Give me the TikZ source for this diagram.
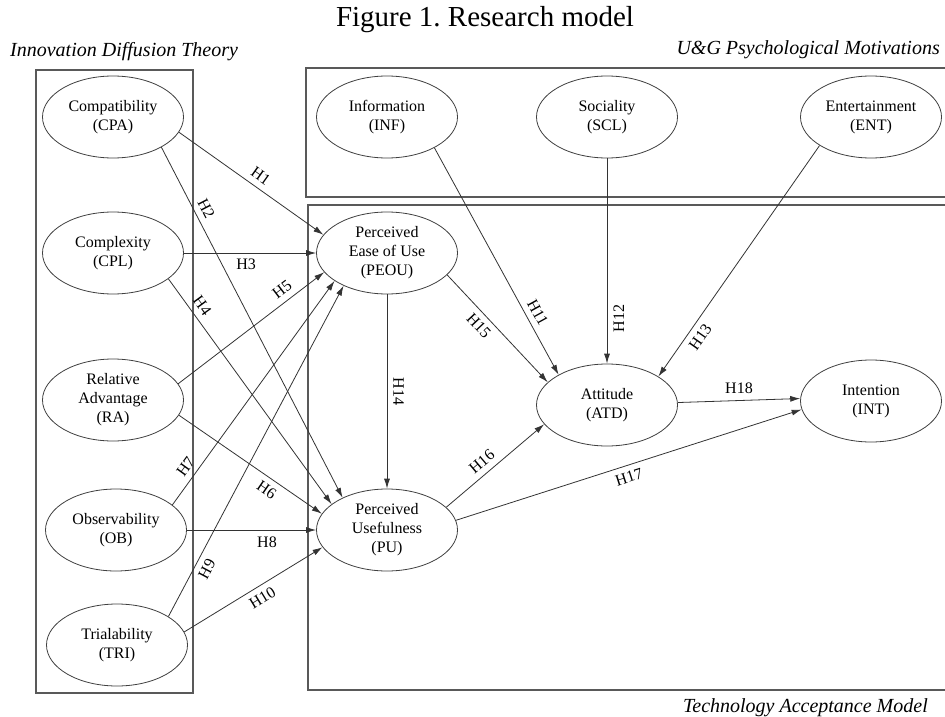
\documentclass[tikz,border=0pt]{standalone}
\usepackage{fontspec}
\setmainfont{Liberation Serif}
\usetikzlibrary{shapes.geometric,arrows.meta}
\frenchspacing

\begin{document}
\begin{tikzpicture}[
    x=1pt, y=-1pt,
    node distance=2cm,
    >={Latex[length=10pt,width=6pt]},
    font=\fontsize{16}{19}\selectfont,
    factor/.style={
		ellipse,
		draw=black!75,
		line width=0.8pt,
		fill=white,
		align=center,
		inner sep=0pt,
		minimum width=141pt,
		minimum height=82pt
	},
	group/.style={
		font=\fontsize{20}{24}\selectfont\itshape,
		inner sep=0pt
	},
	hyp/.style={
		draw=black!80,
		line width=0.8pt,
		->
	},
	hlab/.style={
		inner sep=6pt
	},
	frame/.style={
		draw=black!65,
		line width=1.2pt
	}
  ]
  \useasboundingbox (0,0) rectangle (945,717);

  % titles and the three frames
  \node (title) at (485,20) {\fontsize{29}{32}\selectfont Figure 1. Research model};
  \node [group, anchor=west] (idt) at (10,52) {Innovation Diffusion Theory};
  \node [group, anchor=east] (ug) at (940,50) {U\&G Psychological Motivations};
  \node [group, anchor=east] (tam) at (928,708) {Technology Acceptance Model};

  \draw [frame] (36,70) rectangle (193,693);
  \draw [frame] (306,68) rectangle (950,197);
  \draw [frame] (308,205) rectangle (950,690);

  % innovation diffusion factors
  \node [factor] (cpa) at (113,117) {Compatibility\\(CPA)};
  \node [factor, below of=cpa, node distance=136pt] (cpl) {Complexity\\(CPL)};
  \node [factor, below of=cpl, node distance=147pt] (ra) {Relative\\Advantage\\(RA)};
  \node [factor, below of=ra, node distance=130pt, xshift=3pt] (ob) {Observability\\(OB)};
  \node [factor, below of=ob, node distance=115pt, xshift=1pt] (tri) {Trialability\\(TRI)};

  % TAM constructs
  \node [factor] (peou) at (387,253) {Perceived\\Ease of Use\\(PEOU)};
  \node [factor, below of=peou, node distance=277pt] (pu) {Perceived\\Usefulness\\(PU)};

  % U&G motivations
  \node [factor, above of=peou, node distance=136pt] (inf) {Information\\(INF)};
  \node [factor, right of=inf, node distance=220pt] (scl) {Sociality\\(SCL)};
  \node [factor, right of=scl, node distance=264pt] (ent) {Entertainment\\(ENT)};

  \node [factor, below of=scl, node distance=288pt] (atd) {Attitude\\(ATD)};
  \node [factor, right of=atd, node distance=264pt, yshift=4pt] (int) {Intention\\(INT)};

  % hypotheses
  \draw [hyp] (cpa.-13) -- node [hlab, pos=0.52, sloped, above] {H1} (peou.164);
  \draw [hyp] (cpa.-32) -- node [hlab, pos=0.19, sloped, above] {H2} (pu.144);
  \draw [hyp] (cpl.0) -- node [hlab, pos=0.47, below] {H3} (peou.180);
  \draw [hyp] (cpl.-25) -- node [hlab, pos=0.15, sloped, above] {H4} (pu.155);
  \draw [hyp] (ra.14) -- node [hlab, pos=0.76, sloped, above] {H5} (peou.197);
  \draw [hyp] (ra.-13) -- node [hlab, pos=0.66, sloped, below] {H6} (pu.166);
  \draw [hyp] (ob.24) -- node [hlab, pos=0.14, sloped, above] {H7} (peou.208);
  \draw [hyp] (ob.0) -- node [hlab, pos=0.62, below] {H8} (pu.180);
  \draw [hyp] (tri.29) -- node [hlab, pos=0.16, sloped, below] {H9} (peou.217);
  \draw [hyp] (tri.11) -- node [hlab, pos=0.52, sloped, below] {H10} (pu.195);
  \draw [hyp] (inf.-33) -- node [hlab, pos=0.75, sloped, above] {H11} (atd.148);
  \draw [hyp] (scl.-90) -- node [hlab, pos=0.78, rotate=90, anchor=north] {H12} (atd.90);
  \draw [hyp] (ent.209) -- node [hlab, pos=0.8, sloped, below] {H13} (atd.29);
  \draw [hyp] (peou.-90) -- node [hlab, pos=0.5, sloped, above] {H14} (pu.90);
  \draw [hyp] (peou.-20) -- node [hlab, pos=0.4, sloped, below] {H15} (atd.159);
  \draw [hyp] (pu.21) -- node [hlab, pos=0.44, sloped, above] {H16} (atd.197);
  \draw [hyp] (pu.8) -- node [hlab, pos=0.49, sloped, below] {H17} (int.187);
  \draw [hyp] (atd.2) -- node [hlab, pos=0.5, above] {H18} (int.178);

\end{tikzpicture}
\end{document}
